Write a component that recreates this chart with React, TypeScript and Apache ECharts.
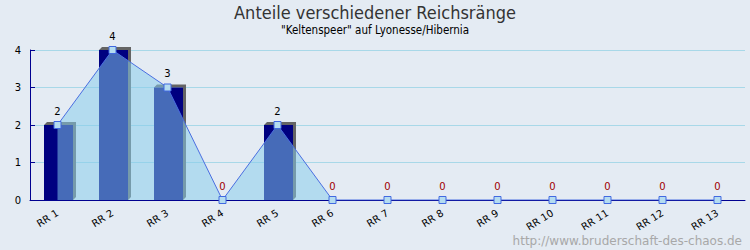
import React, { useEffect, useRef } from "react";
import * as echarts from "echarts";

const categories = ["RR 1", "RR 2", "RR 3", "RR 4", "RR 5", "RR 6", "RR 7", "RR 8", "RR 9", "RR 10", "RR 11", "RR 12", "RR 13"];
const values = [2, 4, 3, 0, 2, 0, 0, 0, 0, 0, 0, 0, 0];
const yTicks = [0, 1, 2, 3, 4];
const titleText = "Anteile verschiedener Reichsränge";
const subtitleText = "\"Keltenspeer\" auf Lyonesse/Hibernia";
const watermark = "http://www.bruderschaft-des-chaos.de";

export default function App() {
  const ref = useRef<HTMLDivElement>(null);
  useEffect(() => {
    document.body.style.margin = "0";
    const chart = echarts.init(ref.current!, null, { renderer: "svg" });
    const font = "DejaVu Sans Condensed, DejaVu Sans, sans-serif";
    chart.setOption({
      animation: false,
      backgroundColor: "#e4ebf3",
      title: {
        text: titleText,
        subtext: subtitleText,
        left: "center",
        top: -2,
        itemGap: 3,
        textStyle: { fontSize: 18, fontWeight: "normal", color: "#333", fontFamily: font },
        subtextStyle: { fontSize: 11.5, color: "#000", fontFamily: font },
      },
      grid: { left: 30, right: 5, top: 50, bottom: 50 },
      xAxis: {
        type: "category",
        data: categories,
        boundaryGap: true,
        axisLine: { lineStyle: { color: "#000090", width: 1 } },
        axisTick: { inside: true, length: 5, lineStyle: { color: "#000090" } },
        axisLabel: { rotate: 32, fontSize: 10, color: "#000", margin: 12, fontFamily: "DejaVu Sans, sans-serif" },
        splitLine: { show: false },
      },
      yAxis: {
        type: "value",
        min: yTicks[0],
        max: yTicks[yTicks.length - 1],
        interval: 1,
        axisLine: { show: true, lineStyle: { color: "#000090", width: 1 } },
        axisTick: { show: true, inside: true, length: 5, lineStyle: { color: "#000090" } },
        axisLabel: { fontSize: 10, color: "#000", margin: 9, fontFamily: "DejaVu Sans, sans-serif" },
        splitLine: { lineStyle: { color: "#a8d8e8", width: 1 } },
      },
      series: [
        {
          type: "custom",
          z: 1,
          data: values.map((v, i) => [i, v]),
          renderItem: (params: any, api: any) => {
            const v = api.value(1);
            if (!v) return null;
            const top = api.coord([api.value(0), v]);
            const base = api.coord([api.value(0), 0]);
            const w = 29;
            const x0 = Math.round(top[0] - w / 2 + 1);
            const x1 = x0 + w;
            const y0 = top[1];
            const yb = base[1];
            const d = 3;
            return {
              type: "group",
              children: [
                {
                  type: "polygon",
                  shape: {
                    points: [
                      [x0 + d, y0 - d],
                      [x1 + d, y0 - d],
                      [x1 + d, yb - d],
                      [x1, yb],
                      [x1, y0],
                      [x0, y0],
                    ],
                  },
                  style: { fill: "#646464" },
                },
                {
                  type: "rect",
                  shape: { x: x0, y: y0, width: w, height: yb - y0 },
                  style: { fill: "#000080" },
                },
              ],
            };
          },
        },
        {
          type: "line",
          z: 3,
          data: values,
          symbol: "rect",
          symbolSize: 7,
          lineStyle: { color: "#4a6ee0", width: 1 },
          itemStyle: { color: "#b4dcf0", borderColor: "#4169e1", borderWidth: 1 },
          areaStyle: { color: "rgba(135,206,235,0.52)", opacity: 1 },
          label: {
            show: true,
            position: "top",
            distance: 5,
            fontSize: 10,
            fontFamily: "DejaVu Sans, sans-serif",
            formatter: (p: any) => (p.value === 0 ? "{z|0}" : "{n|" + p.value + "}"),
            rich: {
              z: { color: "#a00000", fontSize: 10, fontFamily: "DejaVu Sans, sans-serif" },
              n: { color: "#000", fontSize: 10, fontFamily: "DejaVu Sans, sans-serif" },
            },
          },
        },
      ],
      graphic: [
        {
          type: "text",
          right: 8,
          bottom: 3,
          style: { text: watermark, fill: "#a8a8a8", fontSize: 12, fontFamily: "DejaVu Sans, sans-serif" },
        },
      ],
    });
    return () => chart.dispose();
  }, []);
  return <div ref={ref} style={{ width: 750, height: 250 }} />;
}
